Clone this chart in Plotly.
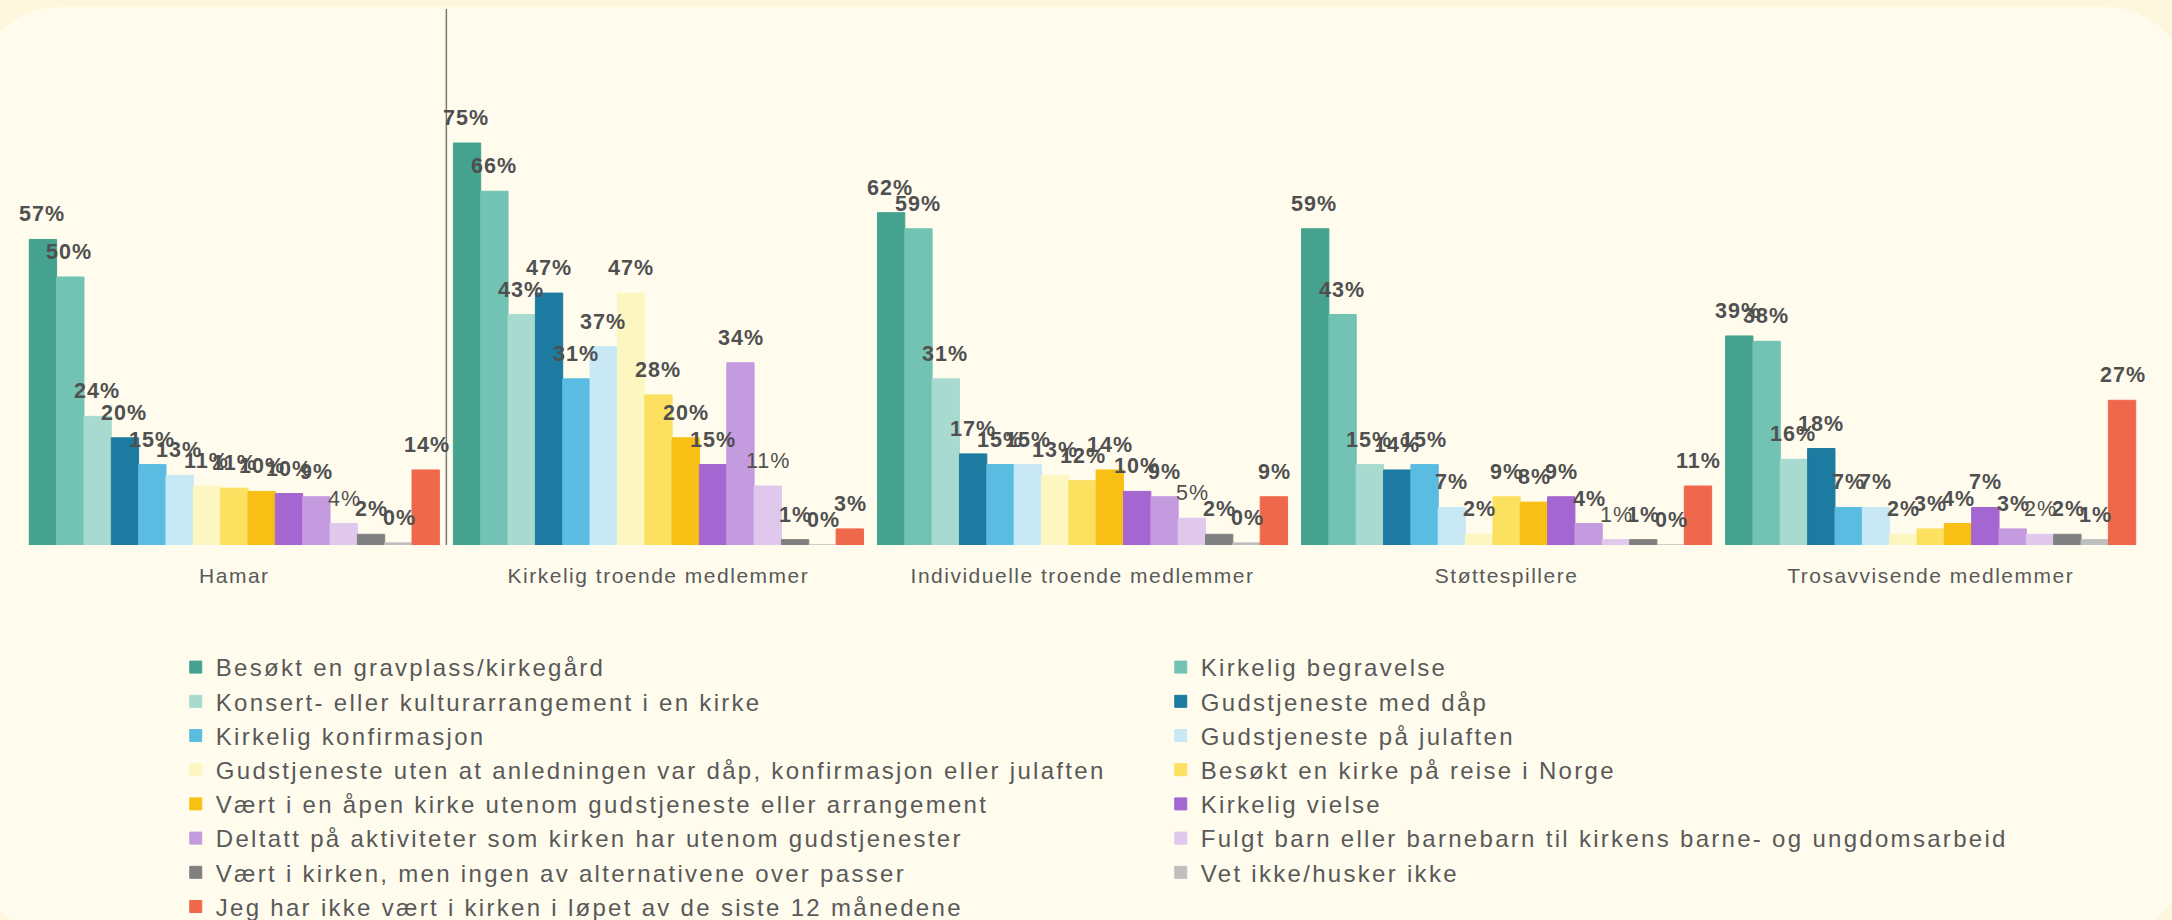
import plotly.graph_objects as go

categories = ["Hamar", "Kirkelig troende medlemmer", "Individuelle troende medlemmer",
              "Støttespillere", "Trosavvisende medlemmer"]

series_names = [
    "Besøkt en gravplass/kirkegård",
    "Kirkelig begravelse",
    "Konsert- eller kulturarrangement i en kirke",
    "Gudstjeneste med dåp",
    "Kirkelig konfirmasjon",
    "Gudstjeneste på julaften",
    "Gudstjeneste uten at anledningen var dåp, konfirmasjon eller julaften",
    "Besøkt en kirke på reise i Norge",
    "Vært i en åpen kirke utenom gudstjeneste eller arrangement",
    "Kirkelig vielse",
    "Deltatt på aktiviteter som kirken har utenom gudstjenester",
    "Fulgt barn eller barnebarn til kirkens barne- og ungdomsarbeid",
    "Vært i kirken, men ingen av alternativene over passer",
    "Vet ikke/husker ikke",
    "Jeg har ikke vært i kirken i løpet av de siste 12 månedene",
]

# values per series (in %), order = categories
besokt_gravplass = [57, 75, 62, 59, 39]
kirkelig_begravelse = [50, 66, 59, 43, 38]
konsert = [24, 43, 31, 15, 16]
gudstjeneste_daap = [20, 47, 17, 14, 18]
konfirmasjon = [15, 31, 15, 15, 7]
julaften = [13, 37, 15, 7, 7]
gudstjeneste_uten = [11, 47, 13, 2, 2]
reise_norge = [10.6, 28, 12, 9, 3]
aapen_kirke = [10, 20, 14, 8, 4]
vielse = [9.6, 15, 10, 9, 7]
aktiviteter = [9, 34, 9, 4, 3]
fulgt_barn = [4, 11, 5, 1, 2]
ingen_passer = [2, 1, 2, 1, 2]
vet_ikke = [0.4, 0, 0.4, 0, 1]
ikke_vaert = [14, 3, 9, 11, 27]

values = [besokt_gravplass, kirkelig_begravelse, konsert, gudstjeneste_daap, konfirmasjon,
          julaften, gudstjeneste_uten, reise_norge, aapen_kirke, vielse, aktiviteter,
          fulgt_barn, ingen_passer, vet_ikke, ikke_vaert]

colors = ["#45A28F", "#72C3B3", "#A9DACF", "#1D7BA1", "#5BBCE2", "#C9E8F5", "#FCF7C0",
          "#FCE060", "#F8C014", "#A466D0", "#C49BDF", "#DFC8EC", "#808080", "#BFBFBF", "#F0684B"]

W, H = 2172, 920
ML, MR, MT, MB = 17, 24, 9, 375
PW = W - ML - MR
PH = H - MT - MB
BARGAP = 0.033
n_series = len(series_names)
bar_px = PW / len(categories) * (1 - BARGAP) / n_series


def spaced(txt, px):
    return f"<span style='letter-spacing:{px}px'>{txt}</span>"


fig = go.Figure()
for i, (name, vals, col) in enumerate(zip(series_names, values, colors)):
    fig.add_trace(go.Bar(
        name=spaced(name, 2.3), x=categories, y=vals,
        marker=dict(color=col, line=dict(color=col, width=1)),
        hoverinfo="skip",
    ))
    for j, v in enumerate(vals):
        fig.add_annotation(
            x=j, y=v, xref="x", yref="y",
            text=spaced(f"{v:.0f}%", 1.0),
            showarrow=False, yanchor="bottom", xanchor="center",
            xshift=(i - (n_series - 1) / 2) * bar_px, yshift=11,
            font=dict(family="Liberation Sans, Arial", size=21.5, color="#505050",
                      weight="normal" if i == 11 else "bold"),
        )


def P(px, py):
    return f"{(px - ML) / PW:.5f},{(H - MB - py) / PH:.5f}"


x0, x1, y0, y1, r = -25, 2190, 7, 935, 85
k = 0.5523 * r
path = (f"M {P(x0 + r, y0)} L {P(x1 - r, y0)} "
        f"C {P(x1 - r + k, y0)} {P(x1, y0 + r - k)} {P(x1, y0 + r)} "
        f"L {P(x1, y1 - r)} "
        f"C {P(x1, y1 - r + k)} {P(x1 - r + k, y1)} {P(x1 - r, y1)} "
        f"L {P(x0 + r, y1)} "
        f"C {P(x0 + r - k, y1)} {P(x0, y1 - r + k)} {P(x0, y1 - r)} "
        f"L {P(x0, y0 + r)} "
        f"C {P(x0, y0 + r - k)} {P(x0 + r - k, y0)} {P(x0 + r, y0)} Z")
fig.add_shape(type="path", path=path, xref="paper", yref="paper",
              fillcolor="#FFFCEE", line=dict(width=0), layer="below")

fig.add_shape(type="line", xref="x", yref="y", x0=0.5, x1=0.5, y0=0, y1=100,
              line=dict(color="#777777", width=1.5))

fig.update_layout(
    width=W, height=H,
    margin=dict(l=ML, r=MR, t=MT, b=MB, autoexpand=False),
    paper_bgcolor="#FFF7DD",
    plot_bgcolor="rgba(0,0,0,0)",
    barmode="group", bargap=BARGAP, bargroupgap=0,
    font=dict(family="Liberation Sans, Arial", color="#595959"),
    xaxis=dict(showgrid=False, showline=False, ticks="", zeroline=False,
               tickmode="array", tickvals=categories,
               ticktext=[spaced(c, 1.5) for c in categories],
               tickfont=dict(size=21, color="#595959"), ticklabelstandoff=16),
    yaxis=dict(range=[0, 100], visible=False, showgrid=False, zeroline=False),
    showlegend=True,
    legend=dict(orientation="h", x=0.0745, xanchor="left", y=-0.1866, yanchor="top",
                entrywidth=940, entrywidthmode="pixels",
                font=dict(size=24, color="#595959"), bgcolor="rgba(0,0,0,0)",
                traceorder="normal"),
)

fig.write_html("out.html", config={"displayModeBar": False},
               post_script="document.body.style.margin='0';document.body.style.overflow='hidden';")
